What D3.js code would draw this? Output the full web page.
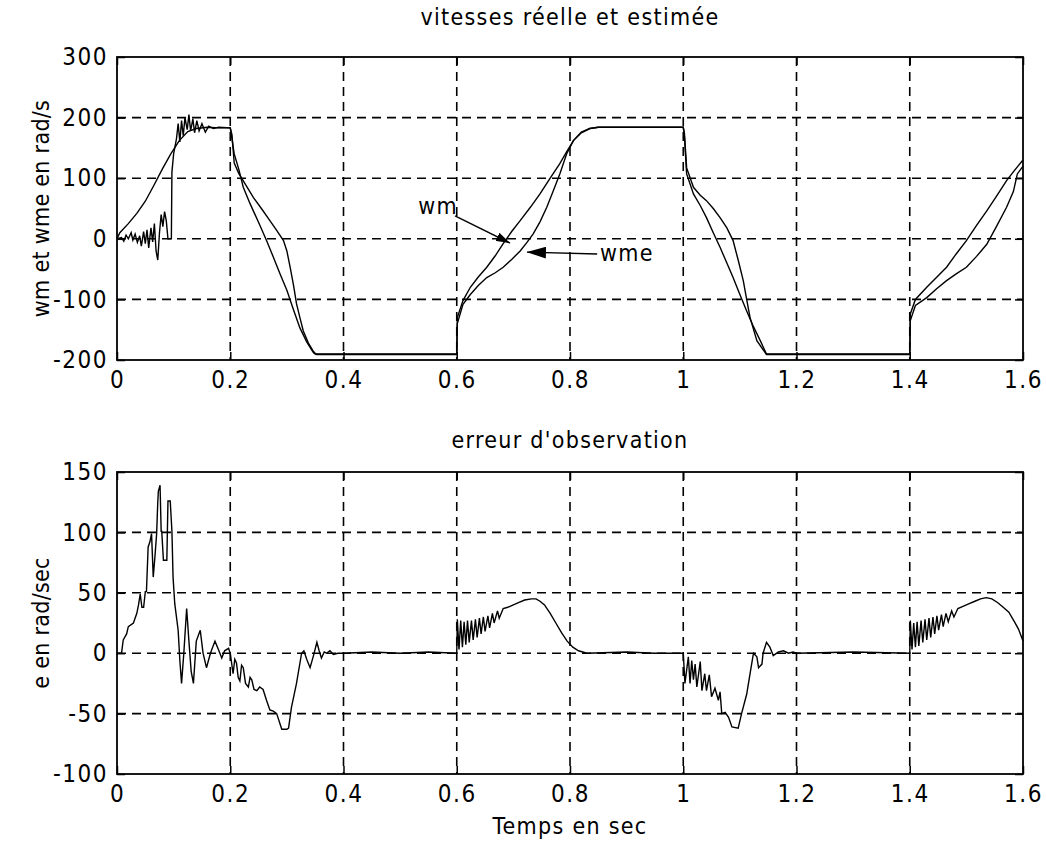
<!DOCTYPE html>
<html>
<head>
<meta charset="utf-8">
<script src="https://cdnjs.cloudflare.com/ajax/libs/d3/7.8.5/d3.min.js"></script>
<style>
  body { margin: 0; background: #fff; }
  svg text { font-family: "Liberation Sans Narrow", "DejaVu Sans Condensed", "Arial Narrow", sans-serif; fill: #000; }
  .tick line { stroke: #000; stroke-width: 1.5; }
  .tick text { font-size: 24px; letter-spacing: 1.5px; }
</style>
</head>
<body>
<svg class="chart"></svg>
<script>
// time axis ticks and labels
var xTicks = [0, 0.2, 0.4, 0.6, 0.8, 1, 1.2, 1.4, 1.6];
var xTickLabels = ['0', '0.2', '0.4', '0.6', '0.8', '1', '1.2', '1.4', '1.6'];
var speedTicks = [-200, -100, 0, 100, 200, 300];
var errTicks = [-100, -50, 0, 50, 100, 150];

var speedTitle = 'vitesses réelle et estimée';
var errTitle = "erreur d'observation";
var speedLabel = 'wm et wme en rad/s';
var errLabel = 'e en rad/sec';
var timeLabel = 'Temps en sec';

// wm : vitesse réelle [t, rad/s]
var wm = [
  [0, 0], [0.005, 10], [0.02, 25], [0.035, 42], [0.05, 62], [0.065, 88], [0.08, 115], [0.095, 140],
  [0.11, 162], [0.125, 177], [0.14, 182], [0.16, 184], [0.18, 183], [0.2, 183],
  [0.203, 165], [0.207, 140], [0.215, 115], [0.223, 85], [0.235, 58], [0.2525, 22], [0.265, -5],
  [0.276, -30], [0.288, -58], [0.3, -85], [0.312, -118], [0.323, -147], [0.335, -170], [0.347, -188],
  [0.35, -190], [0.4, -190], [0.5, -190], [0.6, -190],
  [0.601, -130], [0.611, -102], [0.624, -80], [0.638, -63], [0.653, -47], [0.668, -28], [0.682, -8],
  [0.697, 12], [0.712, 30], [0.73, 52], [0.747, 74], [0.765, 100], [0.782, 124], [0.795, 145],
  [0.806, 162], [0.82, 175], [0.835, 182], [0.85, 184], [0.9, 184], [1.0, 184],
  [1.002, 170], [1.006, 107], [1.018, 74], [1.03, 55], [1.041, 35], [1.053, 10], [1.065, -14],
  [1.077, -40], [1.088, -64], [1.1, -92], [1.112, -119], [1.124, -145], [1.136, -168], [1.147, -190],
  [1.2, -190], [1.3, -190], [1.4, -190],
  [1.401, -124], [1.41, -100], [1.43, -80], [1.448, -63], [1.465, -47], [1.482, -25], [1.5, -3],
  [1.518, 22], [1.536, 46], [1.553, 70], [1.571, 96], [1.585, 113], [1.6, 130]
];

// wme : vitesse estimée [t, rad/s]
var wme = [
  [0, 0], [0.008, 2], [0.012, -4], [0.016, 6], [0.02, 0], [0.025, 10], [0.028, -2], [0.032, 8],
  [0.036, -6], [0.04, 5], [0.043, -12], [0.047, 12], [0.05, -8], [0.053, 15], [0.056, -15], [0.06, 18],
  [0.063, -5], [0.066, 25], [0.069, -20], [0.072, -35], [0.075, 10], [0.078, 40], [0.081, 20],
  [0.084, 45], [0.087, 30], [0.09, 0], [0.096, 0], [0.097, 110], [0.1, 140], [0.105, 165], [0.108, 190],
  [0.111, 160], [0.114, 195], [0.117, 170], [0.12, 200], [0.124, 180], [0.127, 205], [0.13, 178],
  [0.134, 198], [0.137, 175], [0.141, 195], [0.145, 178], [0.15, 190], [0.156, 176], [0.162, 186],
  [0.17, 182], [0.18, 184], [0.2, 183],
  [0.203, 172], [0.207, 125], [0.215, 108], [0.23, 85], [0.241, 68], [0.255, 50], [0.27, 30],
  [0.282, 14], [0.294, -3], [0.3, -20], [0.306, -48], [0.312, -78], [0.317, -107], [0.323, -130],
  [0.329, -152], [0.338, -172], [0.347, -186], [0.352, -191], [0.4, -191], [0.5, -191], [0.6, -191],
  [0.601, -140], [0.611, -108], [0.624, -92], [0.638, -77], [0.653, -64], [0.668, -56], [0.682, -47],
  [0.697, -34], [0.712, -20], [0.724, -6], [0.735, 8], [0.747, 28], [0.759, 52], [0.77, 78],
  [0.782, 107], [0.794, 140], [0.806, 162], [0.82, 176], [0.835, 182], [0.85, 184], [1.0, 184],
  [1.002, 175], [1.006, 117], [1.018, 85], [1.03, 72], [1.041, 63], [1.053, 50], [1.065, 35],
  [1.077, 18], [1.088, -3], [1.097, -35], [1.106, -69], [1.112, -100], [1.118, -130], [1.13, -168],
  [1.147, -191], [1.2, -191], [1.3, -191], [1.4, -191],
  [1.401, -135], [1.41, -110], [1.43, -97], [1.448, -82], [1.465, -69], [1.482, -58], [1.5, -47],
  [1.518, -29], [1.536, -9], [1.553, 20], [1.571, 52], [1.583, 78], [1.59, 107], [1.6, 120]
];

// e : erreur d'observation [t, rad/sec]
var err = [
  [0, 0], [0.008, 0], [0.011, 11], [0.017, 16], [0.02, 22], [0.029, 25], [0.035, 33], [0.038, 40],
  [0.041, 49], [0.044, 38], [0.047, 38], [0.05, 51], [0.052, 51], [0.055, 88], [0.058, 92],
  [0.061, 99], [0.064, 63], [0.067, 80], [0.07, 99], [0.072, 125], [0.073, 134], [0.076, 139],
  [0.078, 101], [0.079, 101], [0.082, 77], [0.088, 77], [0.09, 126], [0.094, 126], [0.097, 101],
  [0.099, 63], [0.102, 41], [0.108, 19], [0.111, -6], [0.114, -25], [0.118, 0], [0.123, 37],
  [0.127, 10], [0.131, -15], [0.135, -25], [0.14, 10], [0.147, 19], [0.152, 0], [0.158, -12],
  [0.165, 0], [0.173, 10], [0.18, 2], [0.185, -4], [0.19, 2], [0.197, 4], [0.2, 0],
  [0.205, -17], [0.208, -5], [0.211, -8], [0.214, -20], [0.217, -23], [0.22, -10], [0.223, -12],
  [0.227, -25], [0.232, -28], [0.235, -20], [0.238, -22], [0.242, -30], [0.247, -31], [0.252, -28],
  [0.258, -30], [0.264, -39], [0.27, -47], [0.276, -48], [0.282, -50], [0.291, -63], [0.3, -63],
  [0.303, -62], [0.308, -45], [0.317, -25], [0.326, 0], [0.33, 2], [0.335, -5], [0.341, -12],
  [0.347, -2], [0.353, 9], [0.357, 2], [0.361, -4], [0.366, 1], [0.37, 0], [0.376, 2], [0.382, -1],
  [0.39, 0], [0.4, 0], [0.45, 1], [0.5, 0], [0.55, 1], [0.6, 0],
  [0.601, 28], [0.604, 3], [0.607, 27], [0.61, 5], [0.613, 26], [0.616, 7], [0.619, 27], [0.622, 9],
  [0.626, 27], [0.629, 11], [0.633, 28], [0.636, 13], [0.64, 29], [0.643, 16], [0.647, 30],
  [0.65, 18], [0.655, 31], [0.658, 21], [0.663, 33], [0.666, 25], [0.672, 35], [0.675, 29],
  [0.682, 37], [0.69, 38], [0.7, 40], [0.71, 42], [0.72, 44], [0.732, 45], [0.74, 45], [0.747, 43],
  [0.755, 40], [0.765, 33], [0.775, 25], [0.785, 17], [0.795, 10], [0.805, 5], [0.815, 2],
  [0.83, 0], [0.9, 1], [0.95, 0], [1.0, 0],
  [1.003, -25], [1.009, -3], [1.012, -25], [1.015, -6], [1.018, -22], [1.021, -9], [1.024, -28],
  [1.03, -7], [1.033, -31], [1.038, -17], [1.041, -31], [1.046, -18], [1.05, -36], [1.056, -29],
  [1.062, -39], [1.065, -32], [1.068, -50], [1.074, -49], [1.08, -53], [1.086, -61], [1.097, -62],
  [1.103, -50], [1.112, -34], [1.118, -17], [1.124, 0], [1.13, -3], [1.133, -12], [1.139, -9],
  [1.141, 0], [1.147, 9], [1.153, 5], [1.159, -2], [1.168, 1], [1.177, 2], [1.186, 0], [1.194, 1],
  [1.2, 0], [1.3, 1], [1.4, 0],
  [1.401, 27], [1.404, 3], [1.407, 25], [1.41, 5], [1.413, 26], [1.416, 6], [1.42, 27], [1.423, 9],
  [1.427, 28], [1.43, 11], [1.434, 29], [1.437, 13], [1.441, 30], [1.444, 16], [1.448, 31],
  [1.451, 19], [1.456, 32], [1.459, 22], [1.464, 33], [1.468, 26], [1.474, 35], [1.478, 30],
  [1.485, 37], [1.495, 39], [1.505, 41], [1.515, 43], [1.525, 45], [1.535, 46], [1.545, 45],
  [1.555, 42], [1.565, 38], [1.575, 34], [1.585, 26], [1.592, 20], [1.6, 10]
];

// annotations in data units: text anchor, arrow tail, arrow head
var wmNote = { text: 'wm', at: [0.532, 41], from: [0.597, 38], to: [0.694, -7] };
var wmeNote = { text: 'wme', at: [0.853, -36], from: [0.848, -25], to: [0.724, -22] };

function show() {
    'use strict';

    var width = 1046, height = 847;
    var left = 117, right = 1023;

    var svg = d3.select('.chart')
        .attr('width', width)
        .attr('height', height);

    svg.append('defs').selectAll('marker')
        .data([{ id: 'headSmall', w: 14, h: 9 }, { id: 'headBig', w: 19, h: 12 }])
        .enter()
        .append('marker')
        .attr('id', function (d) { return d.id; })
        .attr('markerUnits', 'userSpaceOnUse')
        .attr('markerWidth', function (d) { return d.w; })
        .attr('markerHeight', function (d) { return d.h; })
        .attr('refX', function (d) { return d.w; })
        .attr('refY', function (d) { return d.h / 2; })
        .attr('orient', 'auto')
        .append('path')
        .attr('d', function (d) { return 'M0,0L' + d.w + ',' + d.h / 2 + 'L0,' + d.h + 'Z'; })
        .attr('fill', '#000');

    var x = d3.scaleLinear().domain([0, 1.6]).range([left, right]);

    function panel(yScale, yTicks, series, title, ylabel, titleY) {
        var top = yScale.range()[1], bottom = yScale.range()[0];
        var g = svg.append('g');

        // dashed grid
        g.selectAll('line.vgrid').data(xTicks.slice(1, -1))
            .enter().append('line')
            .attr('x1', function (d) { return x(d); })
            .attr('x2', function (d) { return x(d); })
            .attr('y1', top).attr('y2', bottom)
            .attr('stroke', '#000').attr('stroke-width', 1.6)
            .attr('stroke-dasharray', '9,6');
        g.selectAll('line.hgrid').data(yTicks.slice(1, -1))
            .enter().append('line')
            .attr('y1', function (d) { return yScale(d); })
            .attr('y2', function (d) { return yScale(d); })
            .attr('x1', left).attr('x2', right)
            .attr('stroke', '#000').attr('stroke-width', 1.6)
            .attr('stroke-dasharray', '9,6');

        // curves
        var line = d3.line()
            .x(function (d) { return x(d[0]); })
            .y(function (d) { return yScale(d[1]); });
        g.selectAll('path.curve').data(series)
            .enter().append('path')
            .attr('d', line)
            .attr('fill', 'none')
            .attr('stroke', '#000')
            .attr('stroke-width', 1.4)
            .attr('stroke-linejoin', 'miter');

        // axes, ticks pointing inward; plain hyphen for negatives like the original
        var bottomAxis = d3.axisBottom(x).tickValues(xTicks)
            .tickFormat(function (d, i) { return xTickLabels[i]; })
            .tickSizeInner(-8).tickSizeOuter(0).tickPadding(11);
        var leftAxis = d3.axisLeft(yScale).tickValues(yTicks)
            .tickFormat(function (d) { return String(d); })
            .tickSizeInner(-8).tickSizeOuter(0).tickPadding(9);
        g.append('g').attr('transform', 'translate(0,' + bottom + ')').call(bottomAxis);
        g.append('g').attr('transform', 'translate(' + left + ',0)').call(leftAxis);
        g.append('g').attr('transform', 'translate(0,' + top + ')')
            .call(d3.axisTop(x).tickValues(xTicks).tickFormat('').tickSizeInner(-8).tickSizeOuter(0));
        g.append('g').attr('transform', 'translate(' + right + ',0)')
            .call(d3.axisRight(yScale).tickValues(yTicks).tickFormat('').tickSizeInner(-8).tickSizeOuter(0));
        g.selectAll('.domain').remove();

        g.append('rect')
            .attr('x', left).attr('y', top)
            .attr('width', right - left).attr('height', bottom - top)
            .attr('fill', 'none').attr('stroke', '#000').attr('stroke-width', 1.8);

        g.append('text')
            .attr('x', (left + right) / 2).attr('y', titleY)
            .attr('text-anchor', 'middle')
            .style('font-size', '23px').style('letter-spacing', '1.3px')
            .text(title);

        g.append('text')
            .attr('transform', 'translate(49,' + (top + bottom) / 2 + ') rotate(-90)')
            .attr('text-anchor', 'middle')
            .style('font-size', '23px').style('letter-spacing', '0.3px')
            .text(ylabel);

        return g;
    }

    var yTop = d3.scaleLinear().domain([-200, 300]).range([360, 57]);
    var yBot = d3.scaleLinear().domain([-100, 150]).range([774, 472]);

    var gTop = panel(yTop, speedTicks, [wm, wme], speedTitle, speedLabel, 25);
    panel(yBot, errTicks, [err], errTitle, errLabel, 448);

    // wm / wme annotations
    [[wmNote, 'headSmall'], [wmeNote, 'headBig']].forEach(function (n) {
        var note = n[0];
        gTop.append('line')
            .attr('x1', x(note.from[0])).attr('y1', yTop(note.from[1]))
            .attr('x2', x(note.to[0])).attr('y2', yTop(note.to[1]))
            .attr('stroke', '#000').attr('stroke-width', 1.4)
            .attr('marker-end', 'url(#' + n[1] + ')');
        gTop.append('text')
            .attr('x', x(note.at[0])).attr('y', yTop(note.at[1]))
            .style('font-size', '23px').style('letter-spacing', '1.3px')
            .text(note.text);
    });

    svg.append('text')
        .attr('x', (left + right) / 2).attr('y', 834)
        .attr('text-anchor', 'middle')
        .style('font-size', '23px').style('letter-spacing', '1.3px')
        .text(timeLabel);
}

show();
</script>
</body>
</html>
